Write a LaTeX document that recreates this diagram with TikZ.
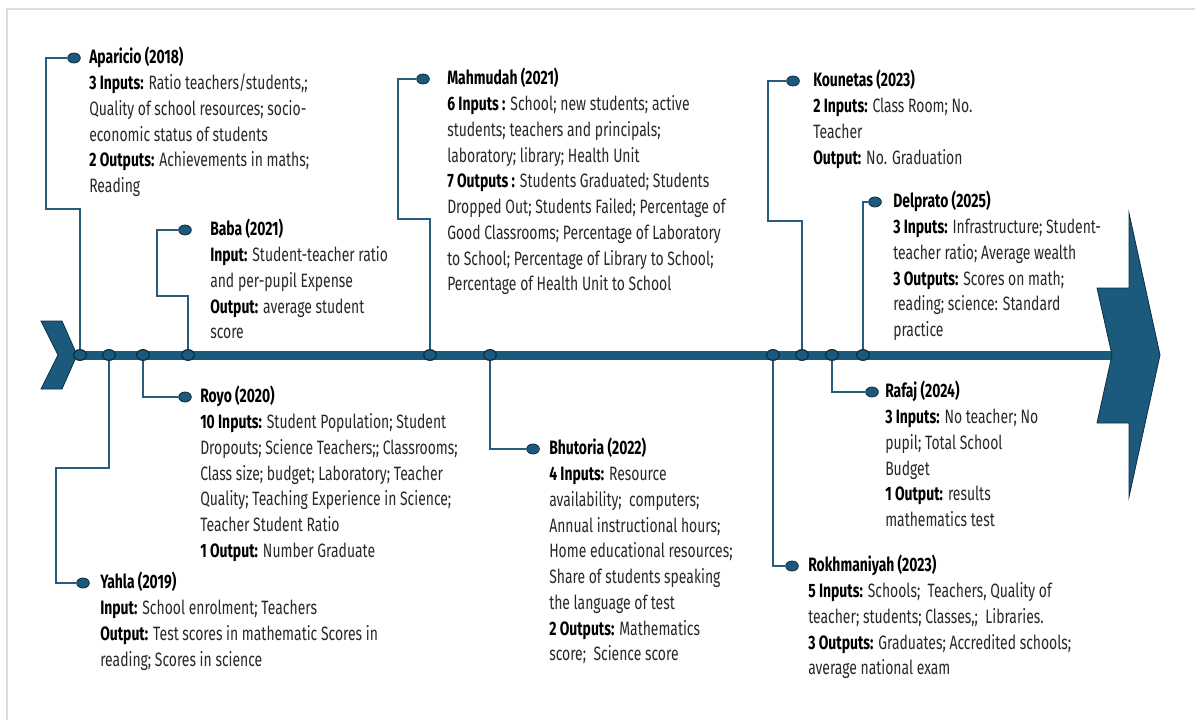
\documentclass[tikz,border=0pt]{standalone}
\usepackage{fontspec}
\setmainfont{Fira Sans}[FakeStretch=0.72]
\usetikzlibrary{shapes.geometric}

\definecolor{barblue}{RGB}{28,90,125}
\definecolor{edgeblue}{RGB}{12,45,66}
\definecolor{linkblue}{RGB}{40,92,124}
\definecolor{framegray}{RGB}{222,222,222}
\definecolor{bodygray}{RGB}{40,40,40}

\tikzset{
  bardot/.style={ellipse, draw=edgeblue, fill=barblue, line width=0.9pt, minimum width=9.5pt, minimum height=8pt, inner sep=0pt},
  tagdot/.style={ellipse, draw=edgeblue, fill=barblue, line width=0.6pt, minimum width=9.5pt, minimum height=7.5pt, inner sep=0pt},
  link/.style={draw=linkblue, line width=1.4pt},
  txt/.style={anchor=north west, align=left, inner sep=0pt, text=bodygray, font=\fontsize{14.5}{19.3}\selectfont},
}
\newcommand{\hd}[1]{\textbf{\color{black}#1}}

\begin{document}
\begin{tikzpicture}[x=0.75pt,y=0.75pt,yscale=-1,xscale=1]
\useasboundingbox (0,0) rectangle (1195,720);

%Frame
\draw [framegray, line width=1.5pt] (7,720) -- (7,9) -- (1195,9) ;

%Chevron at start
\draw [edgeblue, fill=barblue, line width=0.6pt] (41,321) -- (62,321) -- (77,355) -- (62,389) -- (41,389) -- (58,355) -- cycle ;
%Timeline bar
\fill [barblue] (76,351) rectangle (1114,359.5) ;
%Arrow at end
\draw [edgeblue, fill=barblue, line width=0.6pt] (1129,213) -- (1129,288) -- (1097,288) -- (1112,355) -- (1097,423) -- (1129,423) -- (1129,497) -- (1160,355) -- cycle ;

%Dots on the bar
\node [bardot] (bApa) at (80,355) {};
\node [bardot] (bYah) at (109,355) {};
\node [bardot] (bRoy) at (143,355) {};
\node [bardot] (bBab) at (188,355) {};
\node [bardot] (bMah) at (430,355) {};
\node [bardot] (bBhu) at (490,355) {};
\node [bardot] (bRok) at (773,355) {};
\node [bardot] (bKou) at (802,355) {};
\node [bardot] (bRaf) at (832,355) {};
\node [bardot] (bDel) at (863,355) {};

%Dots at the labels
\node [tagdot] (dApa) at (74,58) {};
\node [tagdot] (dBab) at (185,230) {};
\node [tagdot] (dMah) at (423,79) {};
\node [tagdot] (dKou) at (793,81) {};
\node [tagdot] (dDel) at (875,202) {};
\node [tagdot] (dRoy) at (185,397) {};
\node [tagdot] (dYah) at (83,583) {};
\node [tagdot] (dBhu) at (533,449) {};
\node [tagdot] (dRok) at (792,566) {};
\node [tagdot] (dRaf) at (872,392) {};

%Connectors above the bar
\draw [link] (bApa) |- (46,209) |- (dApa) ;
\draw [link] (bBab) |- (157,296) |- (dBab) ;
\draw [link] (bMah) |- (398,219) |- (dMah) ;
\draw [link] (bKou) |- (768,221) |- (dKou) ;
\draw [link] (bDel) |- (dDel) ;
%Connectors below the bar
\draw [link] (bYah) |- (56,468) |- (dYah) ;
\draw [link] (bRoy) |- (dRoy) ;
\draw [link] (bBhu) |- (dBhu) ;
\draw [link] (bRok) |- (dRok) ;
\draw [link] (bRaf) |- (dRaf) ;

%Texts
\node [txt] (tApa) at (89,47) {\hd{Aparicio (2018)}\\
  \hd{3 Inputs:} Ratio teachers/students,;\\
  Quality of school resources; socio-\\
  economic status of students\\
  \hd{2 Outputs:} Achievements in maths;\\
  Reading};
\node [txt] (tBab) at (210,219) {\hd{Baba (2021)}\\
  \hd{Input:} Student-teacher ratio\\
  and per-pupil Expense\\
  \hd{Output:} average student\\
  score};
\node [txt] (tMah) at (447,68) {\hd{Mahmudah (2021)}\\
  \hd{6 Inputs :} School; new students; active\\
  students; teachers and principals;\\
  laboratory; library; Health Unit\\
  \hd{7 Outputs :} Students Graduated; Students\\
  Dropped Out; Students Failed; Percentage of\\
  Good Classrooms; Percentage of Laboratory\\
  to School; Percentage of Library to School;\\
  Percentage of Health Unit to School};
\node [txt] (tKou) at (813,70) {\hd{Kounetas (2023)}\\
  \hd{2 Inputs:} Class Room; No.\\
  Teacher\\
  \hd{Output:} No. Graduation};
\node [txt] (tDel) at (893,191) {\hd{Delprato (2025)}\\
  \hd{3 Inputs:} Infrastructure; Student-\\
  teacher ratio; Average wealth\\
  \hd{3 Outputs:} Scores on math;\\
  reading; science: Standard\\
  practice};
\node [txt] (tRoy) at (200,386) {\hd{Royo (2020)}\\
  \hd{10 Inputs:} Student Population; Student\\
  Dropouts; Science Teachers;; Classrooms;\\
  Class size; budget; Laboratory; Teacher\\
  Quality; Teaching Experience in Science;\\
  Teacher Student Ratio\\
  \hd{1 Output:} Number Graduate};
\node [txt] (tYah) at (100,572) {\hd{Yahla (2019)}\\
  \hd{Input:} School enrolment; Teachers\\
  \hd{Output:} Test scores in mathematic Scores in\\
  reading; Scores in science};
\node [txt] (tBhu) at (549,438) {\hd{Bhutoria (2022)}\\
  \hd{4 Inputs:} Resource\\
  availability;\ \ computers;\\
  Annual instructional hours;\\
  Home educational resources;\\
  Share of students speaking\\
  the language of test\\
  \hd{2 Outputs:} Mathematics\\
  score;\ \ Science score};
\node [txt] (tRaf) at (885,381) {\hd{Rafaj (2024)}\\
  \hd{3 Inputs:} No teacher; No\\
  pupil; Total School\\
  Budget\\
  \hd{1 Output:} results\\
  mathematics test};
\node [txt] (tRok) at (808,555) {\hd{Rokhmaniyah (2023)}\\
  \hd{5 Inputs:} Schools;\ \ Teachers, Quality of\\
  teacher; students; Classes,;\ \ Libraries.\\
  \hd{3 Outputs:} Graduates; Accredited schools;\\
  average national exam};

\end{tikzpicture}
\end{document}
